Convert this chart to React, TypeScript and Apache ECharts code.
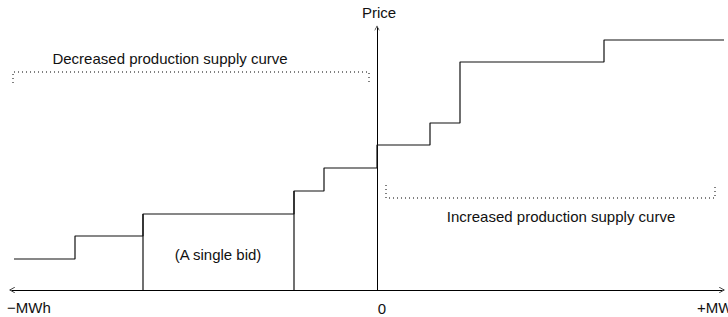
import React, { useEffect, useRef } from "react";
import * as echarts from "echarts";

// Bid steps: quantity (MWh, relative to 0) where each bid starts, and its price
const stepQuantity = [-363, -302, -234, -83, -53, 0, 53, 83, 227];
const stepPrice = [31, 54, 76, 99, 122, 145, 167, 228, 250];
const curveEnd = 348;

// Single-bid box edges (quantity) and their heights
const bidEdgeQuantity = [-234, -83];
const bidEdgePrice = [76, 99];

// Dotted brackets: [xStart, xEnd, yLine, yTick]
const decreasedBracket = [-364, -8, 218, 207];
const increasedBracket = [9, 338, 92, 105];

const xRange = [-365, 345];
const yRange = [0, 262];

const labels = {
  price: "Price",
  neg: "−MWh",
  zero: "0",
  pos: "+MWh",
  decreased: "Decreased production supply curve",
  increased: "Increased production supply curve",
  bid: "(A single bid)",
};

const arrow = "path://M5,0 L10,9.2 L9.2,9.8 L5,2.4 L0.8,9.8 L0,9.2 Z";

function buildSteps(): number[][] {
  const pts: number[][] = [];
  for (let i = 0; i < stepQuantity.length; i++) {
    if (i > 0) pts.push([stepQuantity[i], stepPrice[i - 1]]);
    pts.push([stepQuantity[i], stepPrice[i]]);
  }
  pts.push([curveEnd, stepPrice[stepPrice.length - 1]]);
  return pts;
}

function bracket(b: number[]): number[][] {
  return [
    [b[0], b[3]],
    [b[0], b[2]],
    [b[1], b[2]],
    [b[1], b[3]],
  ];
}

const font = "'Liberation Sans', Arial, Helvetica, sans-serif";

export default function App() {
  const ref = useRef<HTMLDivElement>(null);
  useEffect(() => {
    if (!ref.current) return;
    const chart = echarts.init(ref.current, undefined, { renderer: "svg" });
    const lineBase = {
      type: "line" as const,
      showSymbol: false,
      symbol: "none",
      clip: false,
      silent: true,
    };
    const txt = (text: string, x: number, y: number, align = "center") => ({
      type: "text",
      x,
      y,
      silent: true,
      style: {
        text,
        fill: "#111",
        font: `15px ${font}`,
        textAlign: align,
        textVerticalAlign: "middle",
      },
    });
    chart.setOption({
      animation: false,
      grid: { left: 12, right: 6, top: 28, bottom: 27, containLabel: false },
      xAxis: {
        type: "value",
        min: xRange[0],
        max: xRange[1],
        axisLine: {
          show: true,
          onZero: true,
          symbol: [arrow, arrow],
          symbolSize: [6, 9],
          lineStyle: { color: "#000", width: 1 },
        },
        axisTick: { show: false },
        axisLabel: { show: false },
        splitLine: { show: false },
      },
      yAxis: {
        type: "value",
        min: yRange[0],
        max: yRange[1],
        axisLine: {
          show: true,
          onZero: true,
          symbol: ["none", arrow],
          symbolSize: [5, 9],
          lineStyle: { color: "#000", width: 1 },
        },
        axisTick: { show: false },
        axisLabel: { show: false },
        splitLine: { show: false },
      },
      series: [
        {
          ...lineBase,
          data: buildSteps(),
          lineStyle: { color: "#111", width: 1.2 },
        },
        ...bidEdgeQuantity.map((q, i) => ({
          ...lineBase,
          data: [
            [q, 0],
            [q, bidEdgePrice[i]],
          ],
          lineStyle: { color: "#111", width: 1.2 },
        })),
        {
          ...lineBase,
          data: bracket(decreasedBracket),
          lineStyle: { color: "#000", width: 1, type: [1, 3] },
        },
        {
          ...lineBase,
          data: bracket(increasedBracket),
          lineStyle: { color: "#000", width: 1, type: [1, 3] },
        },
      ],
      graphic: [
        txt(labels.price, 379, 12),
        txt(labels.neg, 7, 307, "left"),
        txt(labels.zero, 382, 308),
        txt(labels.pos, 697, 307, "left"),
        txt(labels.decreased, 170, 58),
        txt(labels.increased, 561, 216),
        txt(labels.bid, 218, 254),
      ],
    });
    return () => chart.dispose();
  }, []);
  return <div ref={ref} style={{ width: 728, height: 317, position: "absolute", left: 0, top: 0 }} />;
}
